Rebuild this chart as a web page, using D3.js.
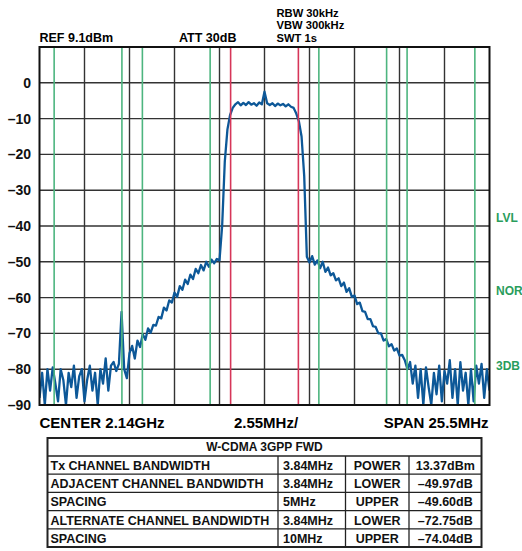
<!DOCTYPE html>
<html>
<head>
<meta charset="utf-8">
<script src="https://cdn.jsdelivr.net/npm/d3@7/dist/d3.min.js"></script>
<style>
  body { margin: 0; background: #fff; }
  svg { display: block; font-family: 'Liberation Sans', Arial, sans-serif; font-weight: bold; }
</style>
</head>
<body>
<svg id="chart" width="522" height="551"></svg>
<script>
'use strict';

/****************************** data ******************************/
// y axis (dB)
var yTicks = [0, -10, -20, -30, -40, -50, -60, -70, -80, -90];
// frequency offset from centre (MHz), span 25.5MHz, 2.55MHz/div
var spanMHz = 25.5;
var divMHz = 2.55;
// channel integration limits: Tx (red) and adjacent / alternate (green)
var txEdges = [-1.92, 1.92];
var neighbourEdges = [-11.92, -8.08, -6.92, -3.08, 3.08, 6.92, 8.08, 11.92];
// trace, sampled every 0.15MHz from -12.75MHz to +12.75MHz (dBm)
var traceStepMHz = 0.15;
var traceLevels = [
    -88, -81, -90, -80, -86, -79.5, -84, -89, -80, -83,
    -90, -81, -85, -79, -88, -82, -80, -89, -83, -79,
    -86, -81, -90, -80, -84, -77, -86, -79, -78, -80.5,
    -78.5, -64, -80, -82.5, -75.5, -73.5, -77, -72, -73.8, -70.2,
    -71.8, -68.6, -69.8, -67.6, -67.8, -65.4, -65.8, -62.8, -63.6, -60.8,
    -61.4, -58.6, -59.8, -56.8, -57.8, -55, -56.2, -53.6, -54.8, -52,
    -53.2, -50.9, -52.4, -50, -51.4, -49.4, -50.4, -49.2, -49.6, -40,
    -22, -13, -9, -7, -6, -5.4, -6.3, -5.6, -6.2, -5.4,
    -6.1, -5.7, -6.4, -5.5, -6, -2.5, -5.7, -6.2, -5.7, -6.5,
    -5.8, -6.3, -5.9, -6.6, -6, -6.7, -7, -8.6, -10.8, -15,
    -26, -48.6, -50.2, -48.4, -50.8, -49.6, -51.8, -50, -52.8, -51.6,
    -53.8, -53.2, -55.2, -54.6, -56.8, -55.8, -58.4, -57.4, -59.8, -59.4,
    -61.8, -61.4, -63.8, -64, -66, -66, -68, -68.2, -70, -70,
    -72, -71.6, -73.6, -73, -74.8, -74.2, -76.2, -76, -77.5, -80,
    -78, -84, -79, -88, -80, -90, -79.5, -85, -90, -81,
    -87, -79, -89, -80.5, -84, -77.5, -88, -80, -90, -78,
    -86, -81, -90, -80, -89, -79, -84, -78.5, -88, -80,
    -86
];
// settings text
var headerLeft = 'REF 9.1dBm';
var headerMid = 'ATT 30dB';
var headerRight = ['RBW 30kHz', 'VBW 300kHz', 'SWT 1s'];
var sideLabels = ['LVL', 'NOR', '3DB'];
var footer = ['CENTER 2.14GHz', '2.55MHz/', 'SPAN 25.5MHz'];
// measurement table
var tableTitle = 'W-CDMA 3GPP FWD';
var rowLabels = ['Tx CHANNEL BANDWIDTH', 'ADJACENT CHANNEL BANDWIDTH', 'SPACING', 'ALTERNATE CHANNEL BANDWIDTH', 'SPACING'];
var rowSettings = ['3.84MHz', '3.84MHz', '5MHz', '3.84MHz', '10MHz'];
var rowNames = ['POWER', 'LOWER', 'UPPER', 'LOWER', 'UPPER'];
var rowResults = ['13.37dBm', '\u201349.97dB', '\u201349.60dB', '\u201372.75dB', '\u201374.04dB'];

/****************************** chart ******************************/
var svg = d3.select('#chart');
var plot = { left: 39.5, right: 489.5, top: 47, bottom: 405 };
var green = '#4db57f', red = '#d63659', blue = '#0d5898', grid = '#333';

var x = d3.scaleLinear().domain([-spanMHz / 2, spanMHz / 2]).range([plot.left, plot.right]);
var y = d3.scaleLinear().domain([-90, 10]).range([plot.bottom, plot.top]);

// grid
var xDivs = d3.range(-spanMHz / 2 + divMHz, spanMHz / 2 - 0.01, divMHz);
svg.append('g').selectAll('line').data(xDivs).enter().append('line')
    .attr('x1', function (d) { return x(d); }).attr('x2', function (d) { return x(d); })
    .attr('y1', plot.top).attr('y2', plot.bottom)
    .attr('stroke', grid).attr('stroke-width', 1.4);
svg.append('g').selectAll('line').data(yTicks.slice(0, -1)).enter().append('line')
    .attr('x1', plot.left).attr('x2', plot.right)
    .attr('y1', function (d) { return y(d); }).attr('y2', function (d) { return y(d); })
    .attr('stroke', grid).attr('stroke-width', 1.4);

// trace
svg.append('clipPath').attr('id', 'clip').append('rect')
    .attr('x', plot.left).attr('y', plot.top)
    .attr('width', plot.right - plot.left).attr('height', plot.bottom - plot.top);

var line = d3.line()
    .x(function (d, i) { return x(-spanMHz / 2 + i * traceStepMHz); })
    .y(function (d) { return y(d); });

svg.append('path').datum(traceLevels)
    .attr('clip-path', 'url(#clip)')
    .attr('d', line)
    .attr('fill', 'none').attr('stroke', blue)
    .attr('stroke-width', 2.3).attr('stroke-linejoin', 'round');

// channel marker lines
svg.append('g').selectAll('line').data(neighbourEdges).enter().append('line')
    .attr('x1', function (d) { return x(d); }).attr('x2', function (d) { return x(d); })
    .attr('y1', plot.top).attr('y2', plot.bottom)
    .attr('stroke', green).attr('stroke-width', 1.6);
svg.append('g').selectAll('line').data(txEdges).enter().append('line')
    .attr('x1', function (d) { return x(d); }).attr('x2', function (d) { return x(d); })
    .attr('y1', plot.top).attr('y2', plot.bottom)
    .attr('stroke', red).attr('stroke-width', 1.6);

// frame
svg.append('rect')
    .attr('x', plot.left).attr('y', plot.top)
    .attr('width', plot.right - plot.left).attr('height', plot.bottom - plot.top)
    .attr('fill', 'none').attr('stroke', '#111').attr('stroke-width', 2);

// y labels
svg.append('g').selectAll('text').data(yTicks).enter().append('text')
    .attr('x', 31).attr('y', function (d) { return y(d) + 5; })
    .attr('text-anchor', 'end').attr('font-size', 14).attr('fill', '#111')
    .text(function (d) { return d < 0 ? '\u2013' + (-d) : d; });

// header
svg.append('text').attr('x', 39.5).attr('y', 41.5).attr('font-size', 12.5).text(headerLeft);
svg.append('text').attr('x', 179).attr('y', 41.5).attr('font-size', 12.5).text(headerMid);
svg.append('g').selectAll('text').data(headerRight).enter().append('text')
    .attr('x', 276.5).attr('y', function (d, i) { return 16.8 + i * 12.5; })
    .attr('font-size', 11.2).text(function (d) { return d; });

// side labels (right of the plot)
var sideLabelY = [221.5, 295, 370];
svg.append('g').selectAll('text').data(sideLabels).enter().append('text')
    .attr('x', 496).attr('y', function (d, i) { return sideLabelY[i]; })
    .attr('font-size', 12).attr('fill', '#2a9d5c')
    .text(function (d) { return d; });

// footer
svg.append('text').attr('x', 39.5).attr('y', 428).attr('font-size', 15).text(footer[0]);
svg.append('text').attr('x', 266).attr('y', 428).attr('text-anchor', 'middle').attr('font-size', 15).text(footer[1]);
svg.append('text').attr('x', 488.5).attr('y', 428).attr('text-anchor', 'end').attr('font-size', 15).text(footer[2]);

/****************************** table ******************************/
var cols = [47.5, 278, 345.5, 409, 481.5];
var tTop = 438, headH = 18, rowH = 18.2;
var table = svg.append('g').attr('font-size', 12.5).attr('fill', '#111');
var nRows = rowLabels.length;
var tBottom = tTop + headH + nRows * rowH;

table.append('rect').attr('x', cols[0]).attr('y', tTop)
    .attr('width', cols[4] - cols[0]).attr('height', tBottom - tTop)
    .attr('fill', 'none').attr('stroke', '#222').attr('stroke-width', 2);
d3.range(nRows).forEach(function (i) {
    var ry = tTop + headH + i * rowH;
    table.append('line').attr('x1', cols[0]).attr('x2', cols[4]).attr('y1', ry).attr('y2', ry)
        .attr('stroke', '#222').attr('stroke-width', 1.3);
});
[1, 2, 3].forEach(function (c) {
    table.append('line').attr('x1', cols[c]).attr('x2', cols[c])
        .attr('y1', tTop + headH).attr('y2', tBottom)
        .attr('stroke', '#222').attr('stroke-width', 1.3);
});
table.append('text').attr('x', (cols[0] + cols[4]) / 2).attr('y', tTop + 13)
    .attr('text-anchor', 'middle').attr('font-size', 12).text(tableTitle);

var rows = d3.range(nRows).map(function (i) {
    return [rowLabels[i], rowSettings[i], rowNames[i], rowResults[i]];
});
rows.forEach(function (r, i) {
    var by = tTop + headH + i * rowH + 14;
    table.append('text').attr('x', cols[0] + 3).attr('y', by).text(r[0]);
    table.append('text').attr('x', cols[1] + 5).attr('y', by).text(r[1]);
    table.append('text').attr('x', (cols[2] + cols[3]) / 2).attr('y', by).attr('text-anchor', 'middle').text(r[2]);
    table.append('text').attr('x', (cols[3] + cols[4]) / 2).attr('y', by).attr('text-anchor', 'middle').text(r[3]);
});
</script>
</body>
</html>
